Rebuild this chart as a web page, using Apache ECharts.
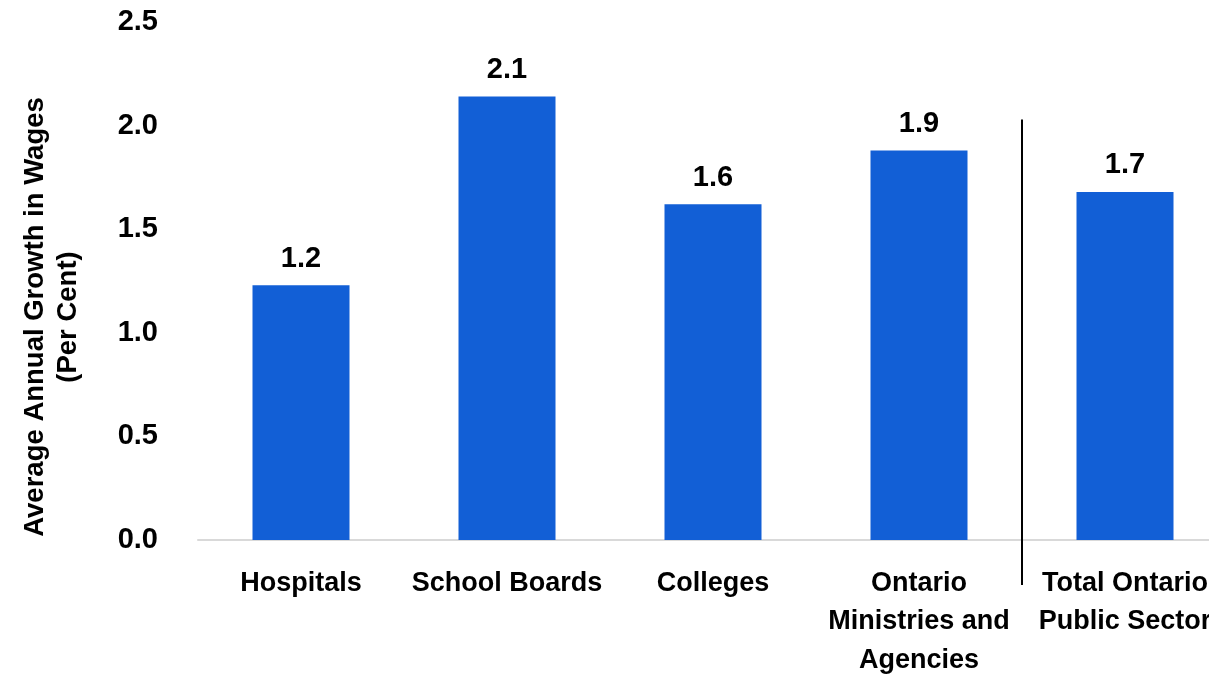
<!DOCTYPE html>
<html>
<head>
<meta charset="utf-8">
<script src="https://cdn.jsdelivr.net/npm/echarts@6/dist/echarts.min.js"></script>
<style>
html,body{margin:0;padding:0;background:#fff;}
#chart{width:1209px;height:674px;}
</style>
</head>
<body>
<div id="chart"></div>
<script>
const categories = ['Hospitals', 'School Boards', 'Colleges', 'Ontario\nMinistries and\nAgencies', 'Total Ontario\nPublic Sector'];
const values = [1.23, 2.14, 1.62, 1.88, 1.68];
const labels = ['1.2', '2.1', '1.6', '1.9', '1.7'];
const yTicks = { min: 0, max: 2.5, interval: 0.5 };
const yTitle = 'Average Annual Growth in Wages\n(Per Cent)';

const FONT = "'Liberation Sans Narrow', 'Liberation Sans', Arial, sans-serif";
const chart = echarts.init(document.getElementById('chart'), null, { renderer: 'canvas' });

const option = {
  animation: false,
  backgroundColor: '#ffffff',
  grid: { left: 198, top: 22, bottom: 134, width: 1030, containLabel: false, outerBoundsMode: 'none' },
  xAxis: {
    type: 'category',
    data: categories,
    axisLine: { show: true, lineStyle: { color: '#d9d9d9', width: 2 } },
    axisTick: { show: false },
    axisLabel: {
      interval: 0,
      margin: 24,
      fontFamily: FONT,
      fontWeight: 'bold',
      fontSize: 27,
      lineHeight: 38.5,
      color: '#000'
    }
  },
  yAxis: {
    type: 'value',
    min: yTicks.min,
    max: yTicks.max,
    interval: yTicks.interval,
    name: yTitle,
    nameLocation: 'middle',
    nameRotate: 90,
    nameGap: 113,
    nameTextStyle: {
      fontFamily: FONT,
      fontWeight: 'bold',
      fontSize: 27.5,
      lineHeight: 33,
      color: '#000',
      align: 'center',
      padding: [0, 72, 0, 0]
    },
    axisLine: { show: false },
    axisTick: { show: false },
    splitLine: { show: false },
    axisLabel: {
      margin: 40,
      fontFamily: FONT,
      fontWeight: 'bold',
      fontSize: 29,
      color: '#000',
      formatter: v => v.toFixed(1)
    }
  },
  series: [{
    type: 'bar',
    data: values,
    barWidth: 97,
    itemStyle: { color: '#125FD6' },
    label: {
      show: true,
      position: 'top',
      distance: 12,
      fontFamily: FONT,
      fontWeight: 'bold',
      fontSize: 29,
      color: '#000',
      formatter: p => labels[p.dataIndex]
    }
  }]
};
chart.setOption(option);

// separator line between the 4th and 5th categories
const p3 = chart.convertToPixel({ gridIndex: 0 }, [3, 0]);
const p4 = chart.convertToPixel({ gridIndex: 0 }, [4, 0]);
const sepTop = chart.convertToPixel({ gridIndex: 0 }, [3, 2.03]);
const sx = (p3[0] + p4[0]) / 2;
chart.setOption({
  graphic: [{
    type: 'line',
    shape: { x1: sx, y1: sepTop[1], x2: sx, y2: p3[1] + 45 },
    style: { stroke: '#000', lineWidth: 2 },
    z: 100
  }]
});
</script>
</body>
</html>
